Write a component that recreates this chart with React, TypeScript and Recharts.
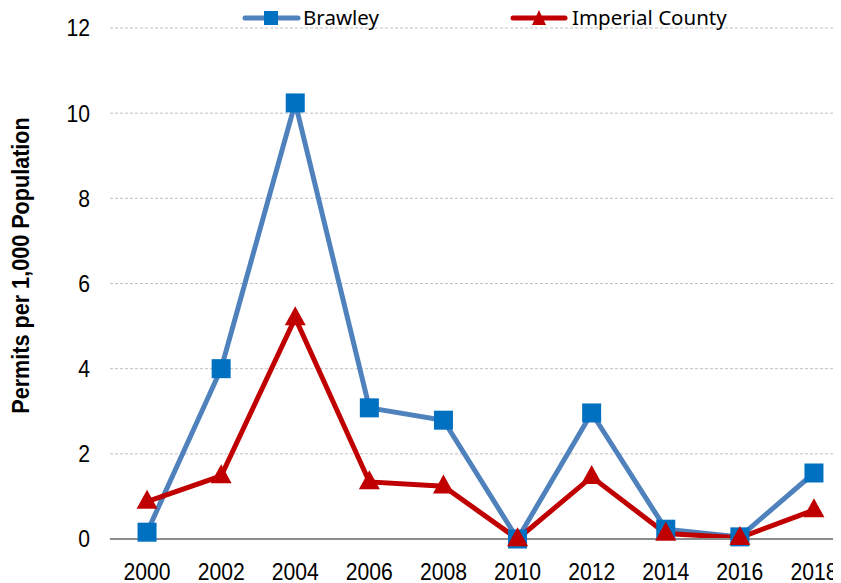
import React from "react";
import { LineChart, Line, XAxis, YAxis, CartesianGrid } from "recharts";

const years = [2000, 2002, 2004, 2006, 2008, 2010, 2012, 2014, 2016, 2018];
const brawley = [0.16, 4.0, 10.24, 3.08, 2.79, 0.0, 2.96, 0.23, 0.05, 1.55];
const imperial = [0.88, 1.48, 5.19, 1.34, 1.24, 0.0, 1.46, 0.13, 0.03, 0.68];
const yTicks = [0, 2, 4, 6, 8, 10, 12];
const seriesNames = ["Brawley", "Imperial County"];
const yLabel = "Permits per 1,000 Population";

const data = years.map((y, i) => ({ year: y, brawley: brawley[i], imperial: imperial[i] }));

const BLUE_LINE = "#4F81BD";
const BLUE_MARK = "#0070C0";
const RED = "#C00000";
const SANS = "'Liberation Sans', Arial, sans-serif";
const NARROW_SCALE = 0.9;

const Square = (props: any) => {
  const { cx, cy, index } = props;
  if (cx == null || cy == null) return <g key={index} />;
  const s = 19;
  return <rect key={index} x={cx - s / 2} y={cy - s / 2} width={s} height={s} fill={BLUE_MARK} />;
};

const Triangle = (props: any) => {
  const { cx, cy, index } = props;
  if (cx == null || cy == null) return <g key={index} />;
  const w = 21, h = 19;
  return (
    <path
      key={index}
      d={`M${cx},${cy - h * 0.62} L${cx + w / 2},${cy + h * 0.38} L${cx - w / 2},${cy + h * 0.38} Z`}
      fill={RED}
    />
  );
};

const XTick = (props: any) => {
  const { x, y, payload } = props;
  return (
    <text
      transform={`translate(${x},${y}) scale(${NARROW_SCALE},1)`}
      textAnchor="middle"
      dy="0.71em"
      fontFamily={SANS}
      fontSize={23.5}
      fill="#000"
    >
      {payload.value}
    </text>
  );
};

const YTick = (props: any) => {
  const { x, y, payload } = props;
  return (
    <text
      transform={`translate(${x},${y}) scale(${NARROW_SCALE},1)`}
      textAnchor="end"
      dy="0.355em"
      fontFamily={SANS}
      fontSize={23.5}
      fill="#000"
    >
      {payload.value}
    </text>
  );
};

const YLabel = (props: any) => {
  const { viewBox } = props;
  const cy = viewBox.y + viewBox.height / 2 - 18;
  const x = 13;
  return (
    <text
      transform={`translate(${x},${cy}) rotate(-90) scale(${NARROW_SCALE},1)`}
      textAnchor="middle"
      dominantBaseline="central"
      fontFamily={SANS}
      fontWeight="bold"
      fontSize={24}
      fill="#000"
    >
      {yLabel}
    </text>
  );
};

const LegendBox = () => (
  <svg
    width={833}
    height={30}
    style={{ position: "absolute", top: 0, left: 0, pointerEvents: "none", display: "block" }}
  >
    <line x1={237} y1={10} x2={290} y2={10} stroke={BLUE_LINE} strokeWidth={5} strokeLinecap="round" />
    <rect x={256} y={3} width={14} height={14} fill={BLUE_MARK} />
    <text x={295} y={17} fontFamily="'Noto Sans', sans-serif" fontSize={20.5} fill="#000">{seriesNames[0]}</text>
    <line x1={505} y1={10} x2={557} y2={10} stroke={RED} strokeWidth={5} strokeLinecap="round" />
    <path d="M531,2 L538,17 L524,17 Z" fill={RED} />
    <text x={564} y={17} fontFamily="'Noto Sans', sans-serif" fontSize={20.5} fill="#000">{seriesNames[1]}</text>
  </svg>
);

export default function App() {
  return (
    <div style={{ position: "relative", width: 833, height: 575 }}>
      <LineChart width={833} height={575} data={data} margin={{ top: 20, right: 0, left: 0, bottom: 0 }}>
        <CartesianGrid horizontal vertical={false} stroke="#c0c0c0" strokeDasharray="3 2" />
        <XAxis
          dataKey="year"
          type="number"
          domain={[1999, 2018.73]}
          ticks={years}
          height={44}
          tickLine={false}
          tickSize={0}
          tickMargin={24}
          axisLine={{ stroke: "#8c8c8c", strokeWidth: 2 }}
          tick={<XTick />}
          allowDataOverflow
        />
        <YAxis
          domain={[0, 12]}
          ticks={yTicks}
          width={102}
          tickLine={false}
          axisLine={false}
          tickSize={0}
          tickMargin={20}
          tick={<YTick />}
          label={<YLabel />}
        />
        <Line
          dataKey="brawley"
          stroke={BLUE_LINE}
          strokeWidth={5}
          dot={<Square />}
          activeDot={false}
          isAnimationActive={false}
        />
        <Line
          dataKey="imperial"
          stroke={RED}
          strokeWidth={5}
          dot={<Triangle />}
          activeDot={false}
          isAnimationActive={false}
        />
      </LineChart>
      <LegendBox />
    </div>
  );
}
